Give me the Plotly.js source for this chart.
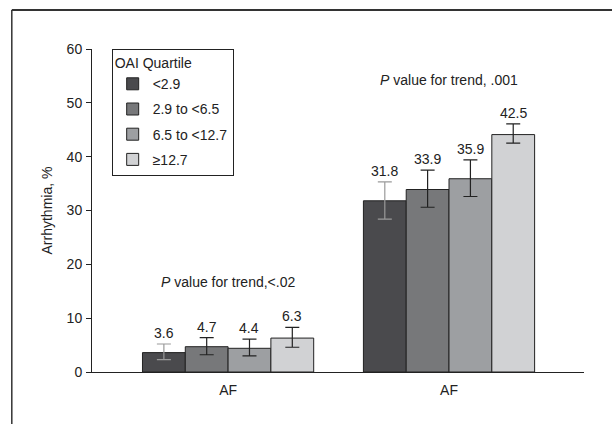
<!DOCTYPE html>
<html>
<head>
<meta charset="utf-8">
<script src="https://cdn.plot.ly/plotly-3.0.1.min.js"></script>
<style>html,body{margin:0;padding:0;background:#fff;}#chart{width:612px;height:424px;}</style>
</head>
<body>
<div id="chart"></div>
<script>
// ---- data ----
var categories = [0, 1];
var categoryLabels = ["AF", "AF"];
var seriesNames = ["&lt;2.9", "2.9 to &lt;6.5", "6.5 to &lt;12.7", "\u226512.7"];
var q1 = [3.6, 31.8];
var q2 = [4.7, 33.9];
var q3 = [4.4, 35.9];
var q4 = [6.3, 44.1];
var q1Hi = [5.2, 35.3];
var q2Hi = [6.4, 37.5];
var q3Hi = [6.1, 39.4];
var q4Hi = [8.3, 46.1];
var q1Lo = [2.3, 28.4];
var q2Lo = [3.2, 30.6];
var q3Lo = [3.0, 32.6];
var q4Lo = [4.6, 42.5];
var q1Labels = ["3.6", "31.8"];
var q2Labels = ["4.7", "33.9"];
var q3Labels = ["4.4", "35.9"];
var q4Labels = ["6.3", "42.5"];
var pTexts = ["<i>P</i> value for trend,&lt;.02", "<i>P</i> value for trend, .001"];
var pTextY = [16.8, 54.2];
var yTicks = [0, 10, 20, 30, 40, 50, 60];

// ---- style ----
var FONT = "Liberation Sans, Arial, sans-serif";
var FS = 14;
var colors = ["#4a4a4d", "#77787a", "#9d9fa2", "#d1d2d4"];
var errColors = ["#9a9a9a", "#222", "#222", "#222"];
var bargap = 0.225;

var vals = [q1, q2, q3, q4];
var his = [q1Hi, q2Hi, q3Hi, q4Hi];
var los = [q1Lo, q2Lo, q3Lo, q4Lo];
var labs = [q1Labels, q2Labels, q3Labels, q4Labels];

var traces = [];
var annotations = [];
var groupW = 1 - bargap;
var barW = groupW / vals.length;
for (var s = 0; s < vals.length; s++) {
  var up = [], dn = [];
  for (var c = 0; c < categories.length; c++) {
    up.push(his[s][c] - vals[s][c]);
    dn.push(vals[s][c] - los[s][c]);
    annotations.push({
      x: categories[c] - groupW / 2 + barW * (s + 0.5),
      y: his[s][c], xref: "x", yref: "y",
      text: labs[s][c], showarrow: false,
      yanchor: "bottom", yshift: 1,
      font: {family: FONT, size: FS, color: "#222"}
    });
  }
  traces.push({
    type: "bar",
    x: categories,
    y: vals[s],
    name: seriesNames[s],
    legendgroup: "g" + s,
    marker: {color: colors[s], line: {color: "#222", width: 1}},
    error_y: {type: "data", symmetric: false, array: up, arrayminus: dn,
              color: errColors[s], thickness: 1.2, width: 7},
    hoverinfo: "y"
  });
}
for (var c = 0; c < categories.length; c++) {
  annotations.push({
    x: categories[c], y: pTextY[c], xref: "x", yref: "y",
    text: pTexts[c], showarrow: false, yanchor: "middle",
    font: {family: FONT, size: FS, color: "#222"}
  });
}

var layout = {
  width: 612, height: 424,
  margin: {l: 92, r: 28, t: 49, b: 52},
  paper_bgcolor: "#fff", plot_bgcolor: "#fff",
  font: {family: FONT, size: FS, color: "#222"},
  barmode: "group", bargap: bargap, bargroupgap: 0,
  showlegend: true,
  legend: {
    x: 0.04, y: 1.0, xanchor: "left", yanchor: "top",
    bordercolor: "#222", borderwidth: 1, bgcolor: "#fff",
    traceorder: "grouped", tracegroupgap: 4,
    title: {text: "OAI Quartile", font: {family: FONT, size: FS, color: "#222"}},
    font: {family: FONT, size: FS, color: "#222"}
  },
  xaxis: {
    range: [-0.616, 1.611], tickmode: "array", tickvals: categories, ticktext: categoryLabels,
    showline: true, linecolor: "#222", linewidth: 1, ticks: "", showgrid: false,
    zeroline: false, ticklabelstandoff: 5
  },
  yaxis: {
    range: [0, 60], tickmode: "array", tickvals: yTicks,
    showline: true, linecolor: "#222", linewidth: 1, ticks: "outside", ticklen: 5,
    tickcolor: "#222", showgrid: false, zeroline: false, ticklabelstandoff: 1,
    title: {text: "Arrhythmia, %", font: {family: FONT, size: FS, color: "#222"}, standoff: 10}
  },
  shapes: [
    {type: "line", xref: "paper", yref: "paper", x0: -0.163, x1: 1.2, y0: 1.1207, y1: 1.1207,
     line: {color: "#333", width: 1.8}},
    {type: "line", xref: "paper", yref: "paper", x0: -0.163, x1: -0.163, y0: 1.1207, y1: -0.3,
     line: {color: "#333", width: 1.5}}
  ],
  annotations: annotations
};

Plotly.newPlot("chart", traces, layout, {displayModeBar: false, staticPlot: true});
</script>
</body>
</html>
